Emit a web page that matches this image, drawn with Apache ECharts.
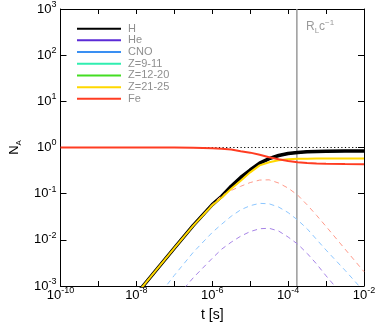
<!DOCTYPE html>
<html><head><meta charset="utf-8">
<script src="https://cdn.jsdelivr.net/npm/echarts@6/dist/echarts.min.js"></script>
<style>html,body{margin:0;padding:0;background:#fff}#c{width:379px;height:327px}</style>
</head><body><div id="c"></div>
<script>
// ---- data ----
const times = [1e-10, 1e-9, 3.16e-9, 1e-8, 3.16e-8, 1e-7, 3.16e-7, 1e-6, 1.78e-6, 3.16e-6, 5.62e-6, 1e-5, 1.78e-5, 3.16e-5, 5.62e-5, 1e-4, 1.78e-4, 3.16e-4, 5.62e-4, 1e-3, 3.16e-3, 1e-2];
const hValues   = [6.7e-6, 6.7e-5, 2.11e-4, 6.66e-4, 2.10e-3, 6.62e-3, 0.0206, 0.058, 0.088, 0.145, 0.225, 0.325, 0.46, 0.575, 0.67, 0.74, 0.78, 0.805, 0.82, 0.83, 0.837, 0.84];
const heValues  = [6.7e-6, 6.7e-5, 2.11e-4, 6.66e-4, 2.10e-3, 6.62e-3, 0.0206, 0.058, 0.088, 0.145, 0.225, 0.325, 0.46, 0.575, 0.67, 0.74, 0.78, 0.805, 0.82, 0.83, 0.837, 0.84];
const cnoValues = [6.7e-6, 6.7e-5, 2.11e-4, 6.66e-4, 2.10e-3, 6.62e-3, 0.0206, 0.058, 0.088, 0.145, 0.225, 0.325, 0.46, 0.575, 0.67, 0.74, 0.78, 0.805, 0.82, 0.83, 0.837, 0.84];
const z9Values  = [6.7e-6, 6.7e-5, 2.11e-4, 6.66e-4, 2.10e-3, 6.62e-3, 0.0206, 0.058, 0.088, 0.145, 0.225, 0.325, 0.46, 0.575, 0.67, 0.74, 0.78, 0.805, 0.82, 0.83, 0.837, 0.84];
const z12Values = [6.7e-6, 6.7e-5, 2.11e-4, 6.66e-4, 2.10e-3, 6.62e-3, 0.0206, 0.058, 0.088, 0.145, 0.225, 0.325, 0.46, 0.575, 0.67, 0.74, 0.78, 0.805, 0.82, 0.83, 0.837, 0.84];
const z21Values = [6.7e-6, 6.7e-5, 2.11e-4, 6.66e-4, 2.10e-3, 6.59e-3, 0.0203, 0.056, 0.083, 0.128, 0.19, 0.29, 0.41, 0.48, 0.53, 0.556, 0.568, 0.574, 0.577, 0.579, 0.58, 0.58];
const feValues  = [1, 1, 1, 0.9996, 0.9988, 0.9963, 0.9883, 0.9647, 0.94, 0.9016, 0.83, 0.774, 0.6935, 0.617, 0.554, 0.509, 0.479, 0.4606, 0.4497, 0.4435, 0.4377, 0.4358];
const totalValues = [1, 1, 1, 1, 1, 1, 1, 1, 1, 1, 1, 1, 1, 1, 1, 1, 1, 1, 1, 1, 1, 1];
const dashRedValues    = [6.7e-6, 6.7e-5, 2.11e-4, 6.68e-4, 2.11e-3, 6.6e-3, 0.0204, 0.059, 0.0912, 0.1175, 0.1445, 0.174, 0.197, 0.1995, 0.17, 0.132, 0.0933, 0.0575, 0.0339, 0.0195, 6.3e-3, 2.04e-3];
const dashBlueValues   = [1.4e-6, 1.4e-5, 4.5e-5, 1.5e-4, 5.0e-4, 1.7e-3, 5.37e-3, 0.01445, 0.0219, 0.0324, 0.0447, 0.055, 0.0617, 0.0603, 0.0513, 0.0389, 0.0269, 0.0174, 0.0102, 6.0e-3, 2.19e-3, 7.6e-4];
const dashPurpleValues = [4e-7, 4e-6, 1.5e-5, 5e-5, 1.6e-4, 5.0e-4, 1.51e-3, 3.98e-3, 6.3e-3, 8.9e-3, 0.012, 0.0151, 0.0174, 0.0178, 0.0155, 0.0115, 8.1e-3, 5.1e-3, 3.0e-3, 1.66e-3, 5.5e-4, 1.8e-4];
const rlcTime = 1.7e-4;
const legendNames = ['H', 'He', 'CNO', 'Z=9-11', 'Z=12-20', 'Z=21-25', 'Fe'];
const xLabelExponents = [-10, -8, -6, -4, -2];
const yDecadeExponents = [-3, -2, -1, 0, 1, 2, 3];

// ---- chart ----
const FONT = '"Liberation Sans", Arial, Helvetica, sans-serif';
const pair = (vals) => times.map((t, i) => [t, vals[i]]);
const xLabels = xLabelExponents.map(e => Math.pow(10, e));
const yMajor = yDecadeExponents.map(e => Math.pow(10, e));

const powLabel = (v) => '{b|10}{s|' + Math.round(Math.log10(v)) + '}';
const richPow = {
  b: {fontSize: 13, fontFamily: FONT, color: '#000', lineHeight: 18},
  s: {fontSize: 9, fontFamily: FONT, color: '#000', lineHeight: 9, verticalAlign: 'top'}
};

const noGrid = {splitLine: {show: false}, minorTick: {show: false}, minorSplitLine: {show: false}};
const lineStyleBlack = {color: '#000', width: 1};
const tickStyle = (len) => ({show: true, inside: true, length: len, lineStyle: {color: '#000', width: 1}});
const baseX = Object.assign({type: 'log', logBase: 10, min: 1e-10, max: 1e-2, interval: 1, gridIndex: 0,
  axisLine: {show: true, onZero: false, lineStyle: lineStyleBlack}, axisTick: tickStyle(5)}, noGrid);
const baseY = Object.assign({type: 'log', logBase: 10, min: 1e-3, max: 1e3, interval: 1, gridIndex: 0,
  axisLine: {show: true, onZero: false, lineStyle: lineStyleBlack}, axisTick: tickStyle(6)}, noGrid);

const colors = {H: '#000000', He: '#5b2bd6', CNO: '#3a8ff2', 'Z=9-11': '#30eeb0', 'Z=12-20': '#44dd22', 'Z=21-25': '#ffd800', Fe: '#ff3c22'};

function solid(name, vals, width, z) {
  return {name, type: 'line', data: pair(vals), showSymbol: false, symbol: 'none', z,
    lineStyle: {color: colors[name], width}, itemStyle: {color: colors[name]}, silent: true};
}
function dashed(vals, color, z) {
  return {type: 'line', data: pair(vals), showSymbol: false, symbol: 'none', z,
    lineStyle: {color, width: 1, type: [5, 4]}, itemStyle: {color}, silent: true};
}

const option = {
  animation: false,
  grid: {left: 54, right: 15, top: 4, bottom: 39.5, containLabel: false},
  legend: {data: legendNames, orient: 'vertical', left: 72, top: 17.8, itemWidth: 44, itemHeight: 2,
    itemGap: 0, icon: 'rect', selectedMode: false,
    textStyle: {color: '#8f8f8f', fontSize: 11, fontFamily: FONT, lineHeight: 11.7, padding: [0, 0, 0, 2]}},
  xAxis: [
    Object.assign({}, baseX, {position: 'bottom', name: 't [s]', nameLocation: 'middle', nameGap: 22,
      nameTextStyle: {fontSize: 14, color: '#000', fontFamily: FONT},
      axisLabel: {customValues: xLabels, formatter: powLabel, margin: 0, rich: richPow}}),
    Object.assign({}, baseX, {position: 'top', axisLabel: {show: false}})
  ],
  yAxis: [
    Object.assign({}, baseY, {position: 'left',
      name: '{n|N}{a|A}', nameLocation: 'middle', nameRotate: 90, nameGap: 38,
      nameTextStyle: {rich: {n: {fontSize: 13, fontFamily: FONT, color: '#000', lineHeight: 16},
        a: {fontSize: 8, fontFamily: FONT, color: '#000', lineHeight: 8, verticalAlign: 'bottom'}}},
      axisLabel: {customValues: yMajor, formatter: powLabel, margin: 4, rich: richPow}}),
    Object.assign({}, baseY, {position: 'right', axisLabel: {show: false}})
  ],
  graphic: [{type: 'text', left: 306, top: 19, silent: true,
    style: {text: '{a|R}{b|L}{a|c}{c|−1}', rich: {
      a: {fontSize: 12, fontFamily: FONT, fill: '#9a9a9a', color: '#9a9a9a', lineHeight: 16},
      b: {fontSize: 8, fontFamily: FONT, fill: '#9a9a9a', color: '#9a9a9a', lineHeight: 8, verticalAlign: 'bottom'},
      c: {fontSize: 8, fontFamily: FONT, fill: '#9a9a9a', color: '#9a9a9a', lineHeight: 8, verticalAlign: 'top'}}}}],
  series: [
    solid('He', heValues, 2, 1),
    solid('CNO', cnoValues, 2, 1),
    solid('Z=9-11', z9Values, 2, 1),
    solid('Z=12-20', z12Values, 2, 1),
    {type: 'line', data: [[rlcTime, 1e-3], [rlcTime, 1e3]], showSymbol: false, symbol: 'none', z: 2, silent: true,
      lineStyle: {color: '#9a9a9a', width: 1.5}},
    solid('H', hValues, 3.5, 5),
    {type: 'line', data: pair(totalValues), showSymbol: false, symbol: 'none', z: 6, silent: true,
      lineStyle: {color: '#000', width: 1.2, type: [1.2, 2.4]}},
    dashed(dashRedValues, '#ff9a8a', 7),
    dashed(dashBlueValues, '#8cc6ff', 7),
    dashed(dashPurpleValues, '#a683e6', 7),
    solid('Z=21-25', z21Values, 2, 8),
    solid('Fe', feValues, 2, 9)
  ]
};
const chart = echarts.init(document.getElementById('c'), null, {renderer: 'canvas'});
chart.setOption(option);
</script></body></html>
